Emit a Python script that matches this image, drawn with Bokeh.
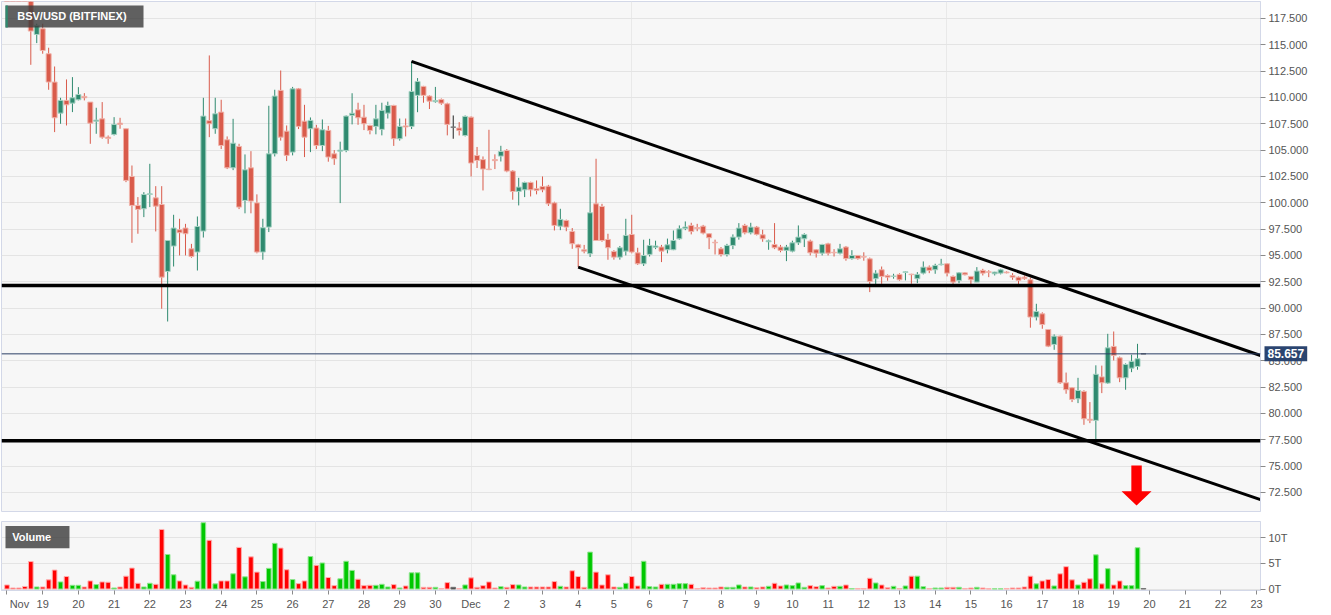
from bokeh.plotting import figure
from bokeh.layouts import column
from bokeh.models import (Range1d, FixedTicker, NumeralTickFormatter, Span, Label,
                          BoxAnnotation, PolyAnnotation, ColumnDataSource)
from bokeh.embed import file_html
from bokeh.resources import INLINE

FONT = "Liberation Sans"
CANDLE_HOURS = 4  # 4-hour candles starting Nov 18 00:00

OPEN = [122.0, 121.6, 121.5, 121.4, 121.0, 115.98, 116.52, 114.15, 111.46, 108.51,
        109.72, 109.46, 109.78, 110.10, 109.56, 107.75, 107.97, 106.23, 106.49, 107.56,
        107.03, 102.50, 99.75, 99.43, 100.79, 100.47, 99.84, 93.48, 95.89, 97.44,
        97.60, 95.63, 95.32, 97.31, 107.80, 107.03, 108.61, 105.98, 103.32, 105.35,
        100.22, 103.32, 99.99, 95.32, 97.69, 104.65, 110.67, 106.80, 104.81, 110.82,
        107.75, 107.03, 107.10, 105.44, 106.87, 104.65, 104.90, 104.97, 108.30, 108.83,
        108.13, 107.34, 107.25, 106.97, 108.51, 109.24, 106.08, 107.30, 107.25, 110.20,
        111.05, 110.13, 109.60, 109.80, 109.40, 107.18, 107.10, 106.39, 108.13, 104.49,
        104.10, 103.20, 104.10, 104.43, 104.97, 103.01, 101.08, 101.23, 101.93, 101.33,
        101.55, 101.58, 99.99, 97.78, 98.32, 97.28, 96.01, 95.54, 95.16, 99.90,
        99.65, 96.52, 95.38, 94.84, 95.41, 96.99, 95.25, 94.21, 95.10, 95.77,
        95.80, 95.54, 95.54, 96.58, 97.56, 97.85, 97.65, 97.78, 97.06, 96.25,
        95.63, 95.09, 95.95, 96.74, 97.85, 97.15, 97.69, 96.96, 96.30, 96.04,
        95.80, 95.48, 95.41, 96.20, 96.58, 96.36, 95.54, 95.22, 96.10, 95.30,
        95.22, 95.80, 94.70, 95.00, 94.90, 94.68, 92.79, 93.64, 93.10, 93.00,
        93.20, 93.38, 93.22, 92.79, 93.32, 93.89, 93.64, 94.12, 94.21, 93.01,
        92.63, 93.35, 93.01, 92.47, 93.58, 93.45, 93.26, 93.32, 93.42, 93.10,
        92.94, 92.94, 92.69, 89.15, 89.46, 87.97, 86.55, 87.34, 82.91, 82.44,
        81.39, 82.09, 79.45, 79.34, 83.47, 82.88, 86.36, 85.28, 83.38, 84.30,
        84.46, 85.657]
HIGH = [122.5, 121.9, 121.8, 121.7, 121.2, 117.00, 117.00, 114.72, 112.94, 109.97,
        111.71, 111.93, 110.98, 110.41, 109.56, 109.02, 109.56, 106.39, 108.13, 108.07,
        107.03, 103.54, 100.54, 101.01, 103.70, 101.58, 101.58, 96.42, 98.86, 98.48,
        98.00, 96.10, 98.70, 109.97, 113.99, 109.97, 109.78, 106.30, 107.97, 105.60,
        104.59, 104.90, 100.80, 98.48, 109.21, 110.73, 112.56, 107.34, 111.00, 110.90,
        109.30, 108.10, 107.40, 107.91, 107.30, 105.00, 105.80, 108.30, 110.40, 109.50,
        109.30, 107.40, 109.30, 109.50, 109.60, 109.30, 108.00, 108.00, 113.42, 111.84,
        111.10, 110.20, 111.00, 109.90, 109.50, 108.29, 107.66, 108.29, 108.20, 105.30,
        104.40, 106.93, 104.60, 105.41, 105.10, 103.10, 102.37, 102.00, 102.00, 102.12,
        102.50, 101.70, 100.10, 99.43, 98.40, 97.60, 96.10, 96.00, 102.44, 104.18,
        99.90, 97.06, 95.50, 95.90, 98.48, 98.86, 95.73, 96.49, 96.58, 96.40,
        96.00, 96.60, 97.37, 97.85, 98.23, 98.10, 98.00, 97.90, 97.10, 96.50,
        95.80, 96.10, 97.00, 98.07, 98.00, 98.10, 97.80, 97.44, 96.50, 98.07,
        96.00, 96.00, 96.40, 97.85, 97.10, 96.50, 95.60, 96.10, 96.20, 95.60,
        96.10, 95.90, 95.50, 95.00, 95.30, 94.80, 93.60, 93.95, 93.20, 93.26,
        93.30, 93.48, 93.26, 93.42, 94.43, 94.05, 94.21, 94.68, 94.25, 93.10,
        93.42, 93.40, 93.05, 93.89, 93.73, 93.60, 93.45, 93.73, 93.50, 93.32,
        93.00, 93.10, 92.90, 90.41, 89.60, 88.00, 87.50, 87.40, 83.88, 82.50,
        83.38, 82.20, 81.08, 84.57, 84.54, 87.56, 87.78, 85.40, 84.75, 85.57,
        86.61, 85.66]
LOW = [121.2, 121.2, 121.1, 120.6, 113.1, 115.16, 114.15, 110.73, 106.71, 107.50,
       107.34, 108.61, 109.72, 109.72, 105.60, 106.55, 106.08, 105.60, 106.39, 107.03,
       101.96, 96.20, 97.06, 98.64, 99.59, 97.28, 89.94, 88.73, 93.95, 95.00,
       95.00, 94.78, 93.57, 96.70, 106.23, 106.55, 105.10, 103.20, 103.10, 99.40,
       99.00, 99.00, 95.20, 94.59, 97.22, 104.40, 105.90, 103.96, 104.50, 107.00,
       104.34, 104.81, 105.10, 104.90, 103.90, 103.60, 99.97, 104.80, 107.44, 107.40,
       106.90, 106.50, 106.50, 106.40, 108.00, 105.40, 105.90, 106.30, 107.00, 108.60,
       109.50, 108.90, 109.50, 109.30, 106.40, 106.08, 106.39, 106.30, 102.50, 103.30,
       101.17, 103.10, 103.20, 103.92, 102.90, 100.29, 99.75, 100.54, 100.60, 100.80,
       101.00, 99.70, 97.37, 97.40, 97.30, 95.63, 93.89, 95.20, 94.85, 96.40,
       96.30, 94.59, 94.60, 94.60, 95.00, 95.20, 94.10, 94.00, 94.90, 95.60,
       94.37, 95.20, 95.50, 96.50, 97.40, 97.00, 97.30, 97.00, 95.60, 95.09,
       94.90, 94.90, 95.60, 96.50, 97.00, 97.00, 96.90, 96.30, 95.54, 95.60,
       95.30, 94.46, 95.30, 96.00, 95.80, 95.00, 94.80, 95.00, 95.00, 94.90,
       95.10, 94.50, 94.60, 94.60, 94.50, 91.52, 92.00, 92.30, 92.60, 92.79,
       92.60, 92.63, 92.31, 92.37, 93.20, 93.32, 93.26, 94.05, 93.01, 92.25,
       92.37, 93.10, 92.25, 92.47, 93.10, 92.94, 93.10, 93.20, 93.30, 92.69,
       92.25, 92.69, 88.14, 88.83, 88.04, 86.30, 86.04, 82.80, 81.87, 81.08,
       80.98, 78.92, 79.08, 77.54, 81.93, 82.80, 85.03, 82.97, 82.25, 83.92,
       84.15, 85.65]
CLOSE = [121.6, 121.5, 121.4, 121.0, 116.30, 116.84, 114.46, 111.46, 108.07, 109.72,
         109.30, 109.97, 110.28, 109.97, 107.56, 107.85, 106.23, 106.10, 107.44, 107.44,
         102.12, 99.75, 99.37, 100.79, 100.85, 99.68, 92.94, 96.42, 97.60, 97.16,
         97.06, 94.90, 97.75, 108.23, 107.50, 108.45, 105.44, 103.32, 105.66, 99.59,
         103.13, 100.16, 95.32, 97.63, 104.65, 110.13, 106.23, 104.50, 110.82, 107.25,
         106.23, 107.82, 105.44, 106.93, 104.34, 104.18, 105.00, 108.23, 108.50, 108.07,
         107.50, 106.87, 107.97, 108.77, 109.24, 106.08, 107.25, 107.20, 110.57, 111.52,
         110.20, 109.65, 109.70, 109.46, 107.44, 107.18, 106.87, 108.20, 103.77, 104.02,
         103.20, 103.15, 104.00, 104.87, 103.01, 101.07, 101.49, 101.93, 101.23, 101.17,
         101.23, 99.90, 97.85, 98.42, 97.69, 96.11, 95.73, 95.41, 99.05, 96.42,
         96.42, 95.73, 94.84, 95.73, 96.90, 95.32, 94.21, 95.00, 95.95, 95.90,
         95.41, 96.01, 96.42, 97.53, 97.70, 97.28, 97.55, 97.12, 96.68, 96.20,
         95.09, 95.95, 96.74, 97.60, 97.15, 97.69, 97.00, 96.58, 96.39, 95.73,
         95.48, 95.80, 96.20, 96.74, 96.99, 95.25, 95.22, 96.04, 95.22, 95.25,
         95.63, 94.70, 95.00, 94.70, 94.84, 92.53, 93.32, 93.01, 92.94, 93.05,
         92.69, 93.45, 93.18, 93.20, 93.89, 93.58, 94.05, 94.17, 93.32, 92.47,
         93.35, 93.17, 92.69, 93.52, 93.32, 93.40, 93.42, 93.64, 93.35, 92.94,
         92.63, 92.79, 89.15, 89.68, 88.44, 86.39, 87.34, 82.91, 82.25, 81.33,
         82.18, 79.49, 79.35, 83.72, 82.91, 86.23, 85.51, 83.38, 84.65, 84.94,
         85.19, 85.657]
VOLUME_T = [0.79, 0.2, 0.2, 0.5, 5.34, 0.4, 0.4, 1.78, 3.69, 1.38,
            2.43, 0.72, 0.72, 0.4, 1.58, 0.86, 1.38, 1.32, 0.2, 0.4,
            2.5, 4.08, 1.12, 0.4, 1.12, 0.92, 11.59, 6.72, 2.77, 1.58,
            0.79, 0.33, 1.52, 12.9, 9.49, 1.0, 1.58, 1.58, 2.96, 8.1,
            2.37, 6.26, 3.29, 1.45, 4.02, 8.89, 7.97, 3.75, 1.84, 1.05,
            1.58, 6.32, 4.61, 5.07, 2.24, 0.66, 1.98, 5.4, 3.62, 1.91,
            0.66, 0.72, 0.72, 0.92, 0.4, 0.86, 0.2, 0.6, 3.16, 3.16,
            0.33, 0.33, 0.33, 0.1, 1.25, 0.33, 0.1, 0.79, 2.17, 0.33,
            0.66, 1.38, 0.2, 0.46, 0.33, 0.86, 0.79, 0.4, 0.4, 0.4,
            0.4, 0.4, 1.45, 0.53, 0.4, 3.56, 2.43, 0.33, 7.18, 3.29,
            0.79, 2.77, 0.4, 0.33, 1.12, 2.43, 0.6, 5.4, 0.46, 0.4,
            0.92, 0.92, 0.92, 1.05, 1.05, 0.92, 0.1, 0.26, 0.2, 0.2,
            0.4, 0.33, 0.33, 0.79, 0.4, 0.4, 0.26, 0.4, 0.53, 1.12,
            0.6, 0.79, 0.66, 1.18, 0.33, 0.66, 0.46, 0.66, 0.2, 0.53,
            0.53, 0.79, 0.1, 0.1, 0.1, 2.1, 1.18, 0.79, 0.26, 0.53,
            0.1, 0.6, 2.5, 2.5, 0.46, 0.1, 0.2, 0.2, 0.33, 0.33,
            0.33, 0.1, 0.2, 0.33, 0.2, 0.05, 0.05, 0.05, 0.1, 0.2,
            0.2, 0.4, 2.5, 1.0, 1.58, 1.84, 0.6, 2.96, 4.35, 1.78,
            0.79, 1.32, 1.98, 6.65, 1.0, 3.95, 0.79, 1.58, 0.66, 0.66,
            8.04, 0.1]

DAY_TICKS = list(range(36))
DAY_LABELS = ["\u00a0\u00a0\u00a0Nov", "19", "20", "21", "22", "23", "24", "25", "26", "27",
              "28", "29", "30", "Dec", "2", "3", "4", "5", "6", "7", "8", "9", "10",
              "11", "12", "13", "14", "15", "16", "17", "18", "19", "20", "21", "22", "23"]
PRICE_TICKS = [72.5, 75.0, 77.5, 80.0, 82.5, 85.0, 87.5, 90.0, 92.5, 95.0, 97.5,
               100.0, 102.5, 105.0, 107.5, 110.0, 112.5, 115.0, 117.5]
VOLUME_TICKS = [0, 5, 10]
VOLUME_LABELS = ["0T", "5T", "10T"]
GRID_X = [8.65, 13.0, 17.48, 26.31]

UPPER_LINE_X = [11.33, 35.112]
UPPER_LINE_Y = [113.42, 85.50]
LOWER_LINE_X = [16.0, 35.112]
LOWER_LINE_Y = [93.89, 71.81]
SUPPORT_LEVELS = [92.15, 77.41]
LAST_PRICE = 85.657

X_RANGE = (-0.154, 35.112)
PRICE_RANGE = (70.69, 119.11)
VOLUME_RANGE = (-0.29, 13.14)

UP, DOWN, FLAT = "#2f8a6f", "#d95b4b", "#222222"
UP_EDGE, DOWN_EDGE, FLAT_EDGE = "#a6d2c3", "#f0b4ab", "#777777"
V_UP, V_DOWN, V_FLAT = "#00c800", "#ff0000", "#333333"
V_UP_EDGE, V_DOWN_EDGE = "#8fe58f", "#ffb0b0"
AXIS_COLOR = "#d3d8e8"
LABEL_COLOR = "#555555"

TOP_PANEL = 30  # hidden strip above the price frame that hosts the (unclipped) price tag

n = len(OPEN)
xs = [j * CANDLE_HOURS / 24 for j in range(n)]
dirs = [1 if c > o else (-1 if c < o else 0) for o, c in zip(OPEN, CLOSE)]
src = ColumnDataSource(dict(
    x=xs,
    high=HIGH, low=LOW,
    top=[max(o, c) for o, c in zip(OPEN, CLOSE)],
    bottom=[min(o, c) for o, c in zip(OPEN, CLOSE)],
    color=[UP if d > 0 else DOWN if d < 0 else FLAT for d in dirs],
    edge=[UP_EDGE if d > 0 else DOWN_EDGE if d < 0 else FLAT_EDGE for d in dirs],
    vol=VOLUME_T,
    vcolor=[V_UP if d > 0 else V_DOWN if d < 0 else V_FLAT for d in dirs],
    vedge=[V_UP_EDGE if d > 0 else V_DOWN_EDGE if d < 0 else FLAT_EDGE for d in dirs],
))

x_range = Range1d(*X_RANGE)

main = figure(width=1320, height=TOP_PANEL + 511, x_range=x_range, y_range=Range1d(*PRICE_RANGE),
              y_axis_location="right", output_backend="svg", toolbar_location=None,
              min_border_left=1, min_border_right=60, min_border_top=TOP_PANEL,
              min_border_bottom=1,
              background_fill_color="#f7f7f7", border_fill_color="white",
              outline_line_color=AXIS_COLOR)
main.xaxis.visible = False
main.yaxis.ticker = FixedTicker(ticks=PRICE_TICKS)
main.yaxis.formatter = NumeralTickFormatter(format="0.000")
for ax in [main.yaxis]:
    ax.axis_line_color = AXIS_COLOR
    ax.major_tick_line_color = "#8a8a8a"
    ax.major_tick_out = 5
    ax.major_tick_in = 0
    ax.minor_tick_line_color = None
    ax.major_label_standoff = 3
    ax.major_label_text_font = FONT
    ax.major_label_text_font_size = "11px"
    ax.major_label_text_color = LABEL_COLOR
main.ygrid.ticker = FixedTicker(ticks=PRICE_TICKS)
main.ygrid.grid_line_color = "#e4e4e4"
main.xgrid.ticker = FixedTicker(ticks=GRID_X)
main.xgrid.grid_line_color = "#e9e9e9"

main.segment("x", "low", "x", "high", line_color="color", line_width=1, source=src)
main.vbar(x="x", width=0.14, top="top", bottom="bottom", fill_color="color",
          line_color="edge", line_width=1, source=src)

main.add_layout(Span(location=LAST_PRICE, dimension="width", line_color="#2b3f66", line_width=1))
for lvl in SUPPORT_LEVELS:
    main.add_layout(Span(location=lvl, dimension="width", line_color="black", line_width=3.5))
main.line(UPPER_LINE_X, UPPER_LINE_Y, line_color="black", line_width=3)
main.line(LOWER_LINE_X, LOWER_LINE_Y, line_color="black", line_width=3)

# red down arrow
ac, sh, hh = 31.64, 0.146, 0.42
main.add_layout(PolyAnnotation(xs=[ac - sh, ac + sh, ac + sh, ac + hh, ac, ac - hh, ac - sh],
                               ys=[75.06, 75.06, 72.62, 72.62, 71.26, 72.62, 72.62],
                               fill_color="#ff0000", fill_alpha=1, line_alpha=0))

# title box
main.add_layout(BoxAnnotation(left=-0.042, right=3.824, top=118.73, bottom=116.65,
                              fill_color="#3e3e3e", fill_alpha=0.82, line_alpha=0))
main.add_layout(BoxAnnotation(left=-0.042, right=0.022, top=118.73, bottom=116.65,
                              fill_color="#2f8a6f", fill_alpha=1, line_alpha=0))
main.add_layout(Label(x=0.286, y=117.69, text="BSV/USD (BITFINEX)", text_baseline="middle",
                      text_color="white", text_font=FONT, text_font_size="11px",
                      text_font_style="bold"))
# last price tag: hosted in the top side panel so it is not clipped to the frame
main.add_layout(Label(x=X_RANGE[1], y=LAST_PRICE, x_offset=4, text="85.657",
                      text_baseline="middle", text_align="left", text_color="white",
                      text_font=FONT, text_font_size="12px", text_font_style="bold",
                      background_fill_color="#2b4570", padding=3), "above")

vol = figure(width=1320, height=103, x_range=x_range, y_range=Range1d(*VOLUME_RANGE),
             y_axis_location="right", output_backend="svg", toolbar_location=None,
             min_border_left=1, min_border_right=60, min_border_top=9, min_border_bottom=25,
             background_fill_color="#f7f7f7", border_fill_color="white",
             outline_line_color=AXIS_COLOR)
vol.yaxis.ticker = FixedTicker(ticks=VOLUME_TICKS)
vol.yaxis.major_label_overrides = {t: l for t, l in zip(VOLUME_TICKS, VOLUME_LABELS)}
vol.xaxis.ticker = FixedTicker(ticks=DAY_TICKS)
vol.xaxis.major_label_overrides = {t: l for t, l in zip(DAY_TICKS, DAY_LABELS)}
for ax in [vol.yaxis[0], vol.xaxis[0]]:
    ax.axis_line_color = AXIS_COLOR
    ax.major_tick_line_color = "#8a8a8a"
    ax.major_tick_in = 0
    ax.minor_tick_line_color = None
    ax.major_label_text_font = FONT
    ax.major_label_text_font_size = "11px"
    ax.major_label_text_color = LABEL_COLOR
vol.yaxis.major_tick_out = 5
vol.yaxis.major_label_standoff = 3
vol.xaxis.major_tick_out = 4
vol.xaxis.major_label_standoff = 3
vol.ygrid.ticker = FixedTicker(ticks=VOLUME_TICKS)
vol.ygrid.grid_line_color = "#e4e4e4"
vol.xgrid.ticker = FixedTicker(ticks=GRID_X)
vol.xgrid.grid_line_color = "#e9e9e9"

vol.vbar(x="x", width=0.13, top="vol", bottom=0, fill_color="vcolor", line_color="vedge",
         line_width=1, source=src)
vol.add_layout(BoxAnnotation(left=-0.042, right=1.75, top=12.25, bottom=7.94,
                             fill_color="#3e3e3e", fill_alpha=0.82, line_alpha=0))
vol.add_layout(Label(x=0.146, y=10.1, text="Volume", text_baseline="middle",
                     text_color="white", text_font=FONT, text_font_size="11px",
                     text_font_style="bold"))

layout = column(main, vol, spacing=0)
layout.styles = {"margin-top": f"-{TOP_PANEL - 1}px"}

open("out.html", "w").write(file_html(layout, INLINE))
